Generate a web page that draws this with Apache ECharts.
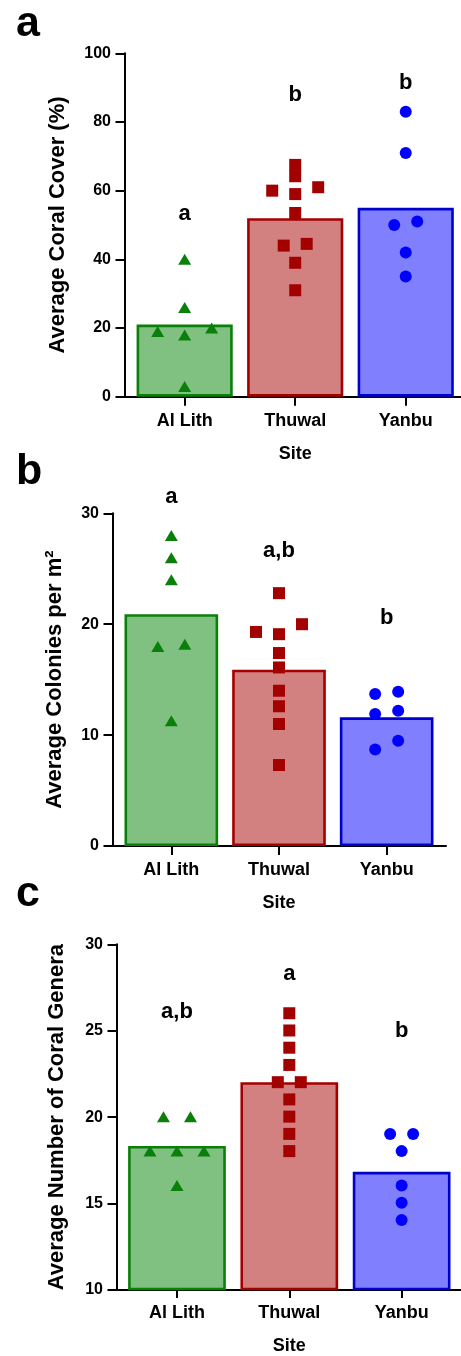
<!DOCTYPE html>
<html><head><meta charset="utf-8">
<script src="https://cdn.jsdelivr.net/npm/echarts@6/dist/echarts.min.js"></script>
<style>html,body{margin:0;padding:0;background:#fff}#c{width:461px;height:1356px}</style>
</head><body><div id="c"></div>
<script>
// ---------- data ----------
const sites = ['Al Lith', 'Thuwal', 'Yanbu'];
const xTitle = 'Site';

// panel a: coral cover
const coverTitle = 'Average Coral Cover (%)';
const coverTicks = [0, 20, 40, 60, 80, 100];
const coverMeans = [21, 52, 55];
const coverAlLith = [40, 26, 20, 19, 18, 3];
const coverThuwal = [67.5, 64.2, 61, 60, 59, 53.5, 44.5, 44, 39, 31];
const coverYanbu = [83, 71, 51, 50, 42, 35];
const coverSig = ['a', 'b', 'b'];
const coverSigAt = [53.2, 87.9, 91.5];

// panel b: colonies per m2
const colTitle = 'Average Colonies per m²';
const colTicks = [0, 10, 20, 30];
const colMeans = [20.9, 15.9, 11.6];
const colAlLith = [28, 26, 24, 18.2, 18, 11.3];
const colThuwal = [22.8, 20, 19.3, 19.1, 17.4, 16.1, 14, 12.6, 11, 7.3];
const colYanbu = [13.9, 13.7, 12.2, 11.9, 9.5, 8.7];
const colSig = ['a', 'a,b', 'b'];
const colSigAt = [31.5, 26.6, 20.6];

// panel c: number of genera
const genTitle = 'Average Number of Coral Genera';
const genTicks = [10, 15, 20, 25, 30];
const genMeans = [18.3, 22, 16.8];
const genAlLith = [20, 20, 18, 18, 18, 16];
const genThuwal = [26, 25, 24, 23, 22, 22, 21, 20, 19, 18];
const genYanbu = [19, 19, 18, 16, 15, 14];
const genSig = ['a,b', 'a', 'b'];
const genSigAt = [26.1, 28.3, 25.0];

const panelLetters = ['a', 'b', 'c'];

// ---------- style / layout ----------
const FONT = '"Liberation Sans", Arial, Helvetica, sans-serif';
const fills = ['#80c080', '#d38080', '#8080ff'];
const borders = ['#0a800a', '#a30000', '#0000cc'];
const markColors = ['#0a800a', '#a30000', '#0000ff'];
const symbols = ['triangle', 'rect', 'circle'];
const symSizes = [[13, 11], [12, 12], [12, 12]];
const spacing = [27, 23, 23];

const panels = [
  { means: coverMeans, pts: [coverAlLith, coverThuwal, coverYanbu], sig: coverSig, sigAt: coverSigAt, ticks: coverTicks, title: coverTitle,
    frame: { left: 124.5, top: 53.3, width: 339, height: 343.4 }, plot: { left: 129.4, width: 333.5 }, nameGap: 55.3, letterTop: 3 },
  { means: colMeans, pts: [colAlLith, colThuwal, colYanbu], sig: colSig, sigAt: colSigAt, ticks: colTicks, title: colTitle,
    frame: { left: 112.5, top: 513.3, width: 333.5, height: 332.7 }, plot: { left: 117.5, width: 323 }, nameGap: 46.6, letterTop: 451 },
  { means: genMeans, pts: [genAlLith, genThuwal, genYanbu], sig: genSig, sigAt: genSigAt, ticks: genTicks, title: genTitle,
    frame: { left: 116.5, top: 944.3, width: 346.5, height: 345.7 }, plot: { left: 120.8, width: 337 }, nameGap: 48.3, letterTop: 873 }
];

// simple column-scatter (beeswarm) layout: close values share a row and are spread sideways
function swarm(values, pxPerUnit, sp) {
  const idx = values.map((v, i) => i).sort((a, b) => values[a] - values[b]);
  const off = new Array(values.length).fill(0);
  let cluster = [idx[0]];
  const flush = () => {
    const n = cluster.length;
    if (n % 2 === 0) {
      cluster.forEach((k, j) => { off[k] = (j - (n - 1) / 2) * sp; });
    } else {
      cluster.forEach((k, j) => { const r = Math.ceil(j / 2); off[k] = j === 0 ? 0 : (j % 2 ? -r * sp : r * sp); });
    }
  };
  for (let j = 1; j < idx.length; j++) {
    if ((values[idx[j]] - values[idx[j - 1]]) * pxPerUnit < 10) cluster.push(idx[j]);
    else { flush(); cluster = [idx[j]]; }
  }
  flush();
  return off;
}

const txt = (size) => ({ fontFamily: FONT, fontWeight: 'bold', fontSize: size, color: '#000' });
const black2 = { color: '#000', width: 2 };

const option = { animation: false, backgroundColor: '#fff', title: [], grid: [], xAxis: [], yAxis: [], series: [] };

panels.forEach((p, pi) => {
  const min = p.ticks[0], max = p.ticks[p.ticks.length - 1], interval = p.ticks[1] - p.ticks[0];
  const f = p.frame;
  const pxPerUnit = f.height / (max - min);
  const gF = pi * 2, gP = pi * 2 + 1;

  option.title.push({ text: panelLetters[pi], left: 16, top: p.letterTop, padding: 0, textStyle: txt(43) });

  option.grid.push({ left: f.left, top: f.top, width: f.width, height: f.height });
  option.grid.push({ left: p.plot.left, top: f.top, width: p.plot.width, height: f.height });

  option.xAxis.push({ gridIndex: gF, type: 'value', min: 0, max: 1,
    axisLine: { show: true, onZero: false, lineStyle: black2 }, axisTick: { show: false }, axisLabel: { show: false }, splitLine: { show: false } });
  option.xAxis.push({ gridIndex: gP, type: 'category', data: sites,
    axisLine: { show: false }, axisTick: { show: true, alignWithLabel: true, length: 9, lineStyle: black2 },
    axisLabel: Object.assign({ margin: 15 }, txt(18)),
    name: xTitle, nameLocation: 'middle', nameGap: 48, nameTextStyle: txt(18) });

  option.yAxis.push({ gridIndex: gF, type: 'value', min, max, interval,
    axisLine: { show: true, lineStyle: black2 }, axisTick: { show: true, length: 9, lineStyle: black2 },
    axisLabel: Object.assign({ margin: 13.5 }, txt(16)), splitLine: { show: false },
    name: p.title, nameLocation: 'middle', nameGap: p.nameGap, nameTextStyle: txt(22) });
  option.yAxis.push({ gridIndex: gP, type: 'value', min, max, interval, show: false, splitLine: { show: false } });

  option.series.push({ type: 'bar', xAxisIndex: gP, yAxisIndex: gP, barWidth: '87%', z: 2,
    data: p.means.map((v, i) => ({ value: v, itemStyle: { color: fills[i], borderColor: borders[i], borderWidth: 2.6 } })) });

  p.pts.forEach((vals, i) => {
    const off = swarm(vals, pxPerUnit, spacing[i]);
    option.series.push({ type: 'scatter', xAxisIndex: gP, yAxisIndex: gP, z: 4, clip: false,
      symbol: symbols[i], symbolSize: symSizes[i], itemStyle: { color: markColors[i], opacity: 1 },
      data: vals.map((v, k) => ({ value: [i, v], symbolOffset: [off[k], 0] })) });
  });

  // significance letters
  option.series.push({ type: 'custom', xAxisIndex: gP, yAxisIndex: gP, z: 5, clip: false, silent: true,
    data: p.sigAt.map((v, i) => [i, v]),
    renderItem: (params, api) => {
      const pt = api.coord([api.value(0), api.value(1)]);
      return { type: 'text', x: pt[0], y: pt[1],
        style: { text: p.sig[params.dataIndex], fill: '#000', font: 'bold 22px ' + FONT, align: 'center', verticalAlign: 'middle' } };
    } });
});

const chart = echarts.init(document.getElementById('c'), null, { renderer: 'canvas' });
chart.setOption(option);
</script></body></html>
